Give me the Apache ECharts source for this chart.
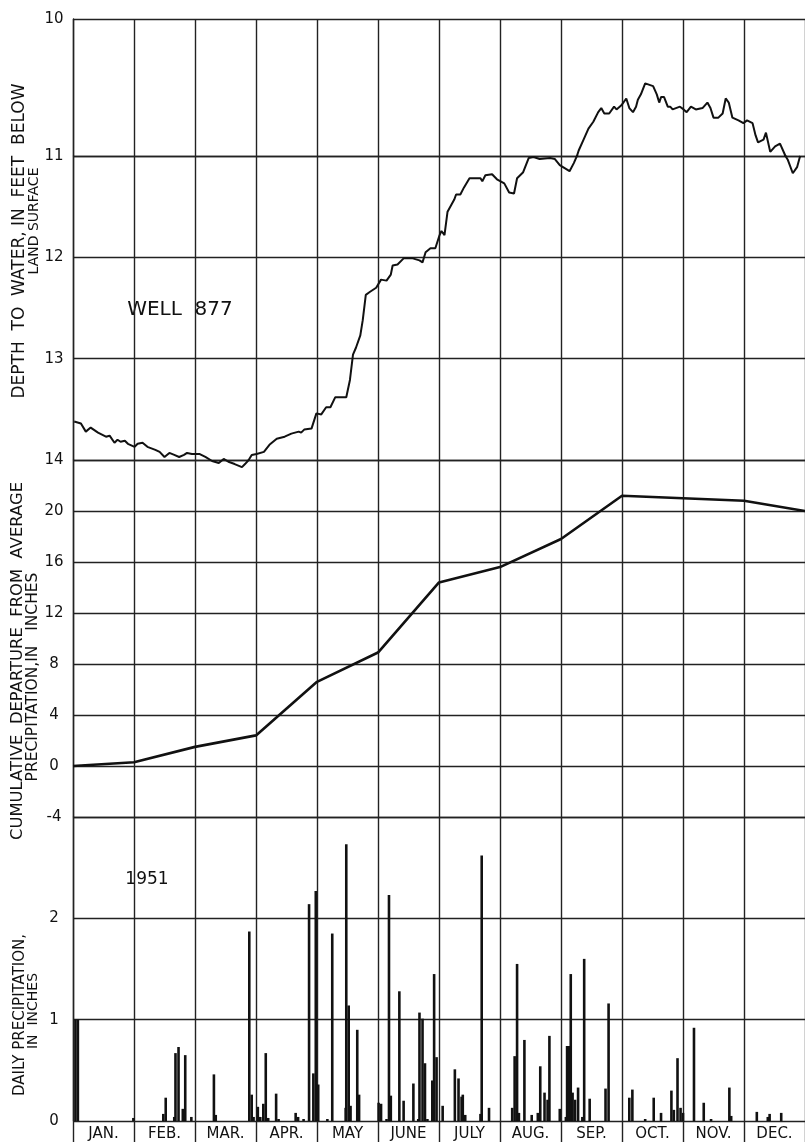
<!DOCTYPE html>
<html>
<head>
<meta charset="utf-8">
<script src="https://cdn.jsdelivr.net/npm/echarts@6/dist/echarts.min.js"></script>
<style>
html,body{margin:0;padding:0;background:#fff;}
#chart{width:805px;height:1142px;}
</style>
</head>
<body>
<div id="chart"></div>
<script>
// ---------- DATA ----------
const monthLabels = ['JAN.','FEB.','MAR.','APR.','MAY','JUNE','JULY','AUG.','SEP.','OCT.','NOV.','DEC.'];

// Well 877: [position in months from Jan 1, depth to water in feet]
const wellDepth = [[0.02,13.62],[0.13,13.64],[0.21,13.72],[0.29,13.68],[0.41,13.73],[0.54,13.77],[0.60,13.76],[0.68,13.83],[0.73,13.80],[0.78,13.82],[0.85,13.81],[0.90,13.84],[1.01,13.87],[1.06,13.84],[1.14,13.83],[1.22,13.87],[1.35,13.90],[1.42,13.92],[1.50,13.97],[1.58,13.93],[1.66,13.95],[1.74,13.97],[1.82,13.95],[1.87,13.93],[1.95,13.94],[2.07,13.94],[2.17,13.97],[2.28,14.01],[2.39,14.03],[2.47,13.99],[2.56,14.02],[2.65,14.04],[2.77,14.07],[2.82,14.04],[2.88,14.00],[2.93,13.95],[3.01,13.94],[3.13,13.92],[3.22,13.85],[3.34,13.79],[3.47,13.77],[3.58,13.74],[3.70,13.72],[3.74,13.73],[3.79,13.70],[3.91,13.69],[3.99,13.54],[4.07,13.55],[4.15,13.48],[4.22,13.48],[4.30,13.38],[4.48,13.38],[4.54,13.21],[4.59,12.96],[4.64,12.89],[4.71,12.77],[4.75,12.62],[4.80,12.37],[4.87,12.34],[4.97,12.30],[5.05,12.22],[5.14,12.23],[5.21,12.17],[5.24,12.08],[5.32,12.07],[5.42,12.01],[5.57,12.01],[5.68,12.03],[5.73,12.05],[5.78,11.95],[5.86,11.91],[5.94,11.91],[6.01,11.78],[6.04,11.74],[6.09,11.78],[6.14,11.55],[6.25,11.43],[6.28,11.38],[6.35,11.38],[6.41,11.31],[6.50,11.22],[6.68,11.22],[6.71,11.25],[6.76,11.19],[6.87,11.18],[6.95,11.23],[7.07,11.27],[7.15,11.36],[7.23,11.37],[7.28,11.22],[7.38,11.16],[7.47,11.02],[7.55,11.01],[7.65,11.03],[7.82,11.02],[7.90,11.03],[7.98,11.09],[8.06,11.12],[8.14,11.15],[8.21,11.07],[8.29,10.96],[8.37,10.88],[8.45,10.80],[8.53,10.75],[8.61,10.68],[8.66,10.65],[8.71,10.69],[8.79,10.69],[8.87,10.64],[8.91,10.66],[8.99,10.63],[9.07,10.58],[9.12,10.65],[9.18,10.68],[9.23,10.64],[9.26,10.59],[9.31,10.55],[9.38,10.47],[9.51,10.49],[9.57,10.55],[9.61,10.61],[9.64,10.57],[9.69,10.57],[9.75,10.64],[9.79,10.64],[9.83,10.66],[9.95,10.64],[10.01,10.66],[10.06,10.68],[10.13,10.64],[10.21,10.66],[10.32,10.65],[10.40,10.61],[10.45,10.65],[10.50,10.72],[10.58,10.72],[10.65,10.69],[10.70,10.58],[10.75,10.61],[10.81,10.72],[10.91,10.74],[10.99,10.76],[11.05,10.74],[11.14,10.76],[11.19,10.85],[11.23,10.90],[11.32,10.88],[11.36,10.83],[11.43,10.97],[11.51,10.93],[11.59,10.91],[11.66,10.98],[11.72,11.04],[11.80,11.17],[11.87,11.11],[11.92,11.00]];

// Cumulative departure from average precipitation (inches) at month ends 0..12
const cumMonths = [0,1,2,3,4,5,6,7,8,9,10,11,12];
const cumDeparture = [0,0.3,1.5,2.4,6.6,8.9,14.4,15.6,17.8,21.2,21.0,20.8,20.0];

// Daily precipitation: [position in months from Jan 1, inches]
const dailyPrecip = [[0.04,1.0],[0.08,1.0],[0.99,0.03],[1.48,0.07],[1.52,0.23],[1.66,0.04],[1.68,0.67],[1.73,0.73],[1.80,0.12],[1.84,0.65],[1.94,0.04],[2.31,0.46],[2.34,0.06],[2.89,1.87],[2.93,0.26],[2.96,0.04],[3.03,0.14],[3.07,0.04],[3.12,0.17],[3.16,0.67],[3.20,0.03],[3.33,0.27],[3.37,0.02],[3.65,0.08],[3.69,0.04],[3.78,0.02],[3.87,2.14],[3.94,0.47],[3.98,2.27],[4.02,0.36],[4.17,0.02],[4.25,1.85],[4.47,0.13],[4.48,2.73],[4.52,1.14],[4.55,0.15],[4.66,0.90],[4.69,0.26],[5.01,0.18],[5.05,0.17],[5.14,0.02],[5.18,2.23],[5.21,0.25],[5.35,1.28],[5.42,0.20],[5.58,0.37],[5.66,0.02],[5.68,1.07],[5.73,1.01],[5.77,0.57],[5.81,0.02],[5.89,0.40],[5.92,1.45],[5.96,0.63],[6.06,0.15],[6.26,0.51],[6.32,0.42],[6.37,0.24],[6.39,0.26],[6.43,0.06],[6.68,0.07],[6.70,2.62],[6.82,0.13],[7.20,0.13],[7.24,0.64],[7.28,1.55],[7.31,0.08],[7.40,0.80],[7.52,0.06],[7.62,0.08],[7.66,0.54],[7.73,0.28],[7.78,0.21],[7.81,0.84],[7.98,0.12],[8.08,0.04],[8.10,0.74],[8.13,0.74],[8.16,1.45],[8.19,0.28],[8.23,0.21],[8.28,0.33],[8.35,0.04],[8.38,1.60],[8.47,0.22],[8.73,0.32],[8.78,1.16],[9.12,0.23],[9.17,0.31],[9.38,0.02],[9.52,0.23],[9.64,0.08],[9.81,0.30],[9.85,0.11],[9.91,0.62],[9.96,0.13],[10.00,0.08],[10.18,0.92],[10.34,0.18],[10.46,0.02],[10.76,0.33],[10.79,0.05],[11.21,0.09],[11.39,0.04],[11.42,0.07],[11.61,0.08]];

// Axis ranges / ticks
const depthUpper = [10, 11];      // min, max (upper well band)
const depthLower = [11, 14];      // min, max
const depthLowerDraw = [11, 14.1]; // drawing range for the curve (dips just below 14)
const departureRange = [-4, 24, 4];
const precipRange = [0, 3, 1];

// ---------- CHART ----------
const INK = '#111';
const FONT = 'DejaVu Sans';
const chart = echarts.init(document.getElementById('chart'), null, {renderer:'canvas'});

const L = 73, W = 737;
const pxPerFt = 304 / (depthLower[1] - depthLower[0]);
const grids = [
  {left:L, width:W, top:19, height:137},
  {left:L, width:W, top:156, height:304},
  {left:L, width:W, top:460, height:357},
  {left:L, width:W, top:817, height:305},
  {left:L, width:W, top:156, height:pxPerFt * (depthLowerDraw[1] - depthLowerDraw[0])}
];

function monthAxis(i, split){
  return {type:'value', gridIndex:i, min:0, max:12, interval:1,
    axisLine:{show:false}, axisTick:{show:false}, axisLabel:{show:false},
    splitLine:{show:split, lineStyle:{color:'#222', width:1.4}}};
}
const ySplit = {show:true, lineStyle:{color:'#222', width:1.4}};
const yLabel = {color:INK, fontFamily:FONT, fontSize:15, align:'center', margin:19};
const yLine = {show:true, lineStyle:{color:'#222', width:1.4}};

function txt(x, y, text, size, rot){
  return {type:'text', x:x, y:y, rotation:rot ? Math.PI/2 : 0,
    style:{text:text, fontFamily:FONT, fontSize:size, fill:INK,
      textAlign:'center', textVerticalAlign:'middle', align:'center', verticalAlign:'middle'}};
}

const option = {
  backgroundColor:'#fff',
  animation:false,
  grid:grids,
  xAxis:[monthAxis(0,true),monthAxis(1,true),monthAxis(2,true),monthAxis(3,true),
    {type:'category', gridIndex:3, data:monthLabels, boundaryGap:true, position:'bottom',
     axisLine:{show:false},
     axisTick:{show:true, length:22, lineStyle:{color:'#222', width:1.4}},
     axisLabel:{color:INK, fontFamily:FONT, fontSize:15, margin:6},
     splitLine:{show:false}},
    monthAxis(4,false)
  ],
  yAxis:[
    {type:'value', gridIndex:0, inverse:true, min:depthUpper[0], max:depthUpper[1], interval:1,
      axisLine:yLine, axisTick:{show:false}, axisLabel:yLabel, splitLine:ySplit},
    {type:'value', gridIndex:1, inverse:true, min:depthLower[0], max:depthLower[1], interval:1,
      axisLine:yLine, axisTick:{show:false}, axisLabel:Object.assign({showMinLabel:false}, yLabel), splitLine:ySplit},
    {type:'value', gridIndex:2, min:departureRange[0], max:departureRange[1], interval:departureRange[2],
      axisLine:yLine, axisTick:{show:false}, axisLabel:Object.assign({showMaxLabel:false}, yLabel), splitLine:ySplit},
    {type:'value', gridIndex:3, min:precipRange[0], max:precipRange[1], interval:precipRange[2],
      axisLine:yLine, axisTick:{show:false}, axisLabel:Object.assign({showMaxLabel:false}, yLabel), splitLine:ySplit},
    {type:'value', gridIndex:4, inverse:true, min:depthLowerDraw[0], max:depthLowerDraw[1],
      axisLine:{show:false}, axisTick:{show:false}, axisLabel:{show:false}, splitLine:{show:false}}
  ],
  series:[
    {type:'line', xAxisIndex:0, yAxisIndex:0, data:wellDepth, showSymbol:false, clip:true,
      lineStyle:{color:INK, width:2}},
    {type:'line', xAxisIndex:5, yAxisIndex:4, data:wellDepth, showSymbol:false, clip:true,
      lineStyle:{color:INK, width:2}},
    {type:'line', xAxisIndex:2, yAxisIndex:2, data:cumMonths.map((m,i)=>[m,cumDeparture[i]]),
      showSymbol:false, clip:true, lineStyle:{color:INK, width:2.6}},
    {type:'bar', xAxisIndex:3, yAxisIndex:3, data:dailyPrecip, barWidth:2.6,
      itemStyle:{color:INK}}
  ],
  graphic:[
    txt(20, 241, 'DEPTH  TO  WATER, IN  FEET  BELOW', 17, true),
    txt(34, 221, 'LAND SURFACE', 14, true),
    txt(18, 661, 'CUMULATIVE  DEPARTURE  FROM  AVERAGE', 16.4, true),
    txt(33, 677, 'PRECIPITATION,IN   INCHES', 15.5, true),
    txt(20, 1015, 'DAILY PRECIPITATION,', 15, true),
    txt(33, 1011, 'IN  INCHES', 14, true),
    txt(180, 310, 'WELL  877', 20, false),
    txt(147, 880, '1951', 17, false)
  ]
};
chart.setOption(option);
</script>
</body>
</html>
